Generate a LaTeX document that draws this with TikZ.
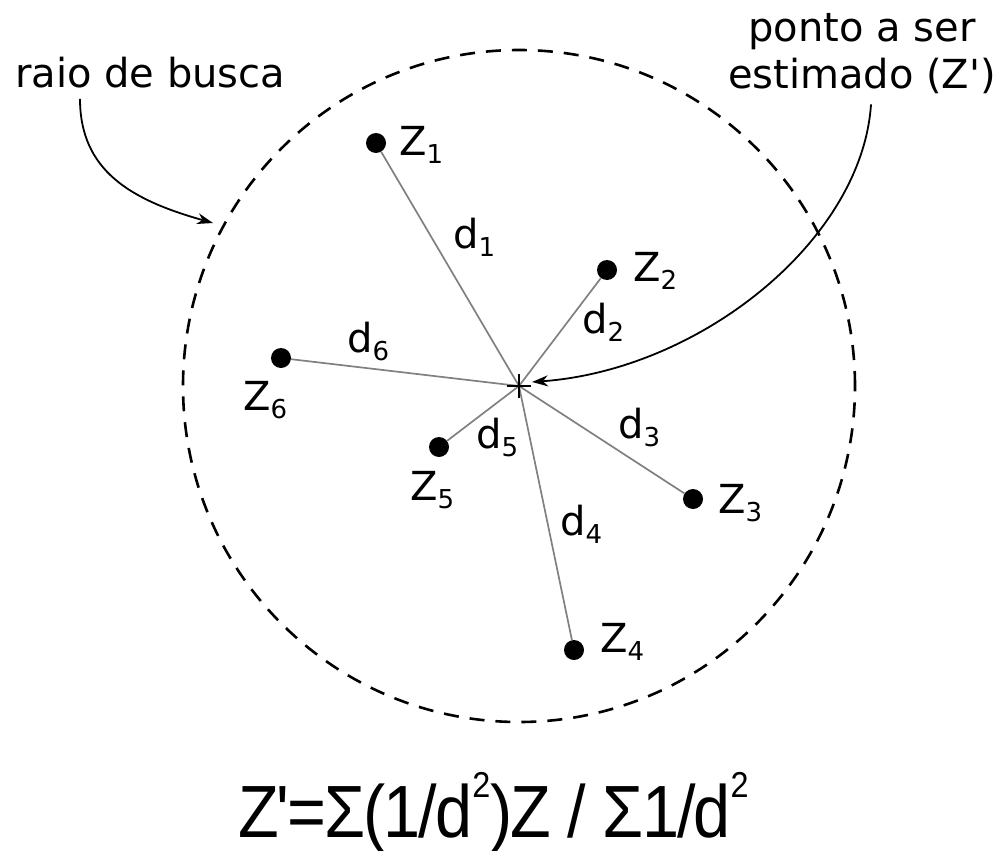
\documentclass[tikz,border=0pt]{standalone}
\usepackage{fontspec}
\setmainfont{DejaVu Sans}
\newfontfamily\formulafont[LetterSpace=-3]{Liberation Sans}
\usetikzlibrary{arrows.meta}

\newcommand{\indice}[1]{\raisebox{-8pt}{\fontsize{26}{26}\selectfont #1}}
\newcommand{\expoente}[1]{\raisebox{40pt}{\fontsize{36}{36}\selectfont #1}}

\tikzset{
  amostra/.style={circle, fill=black, inner sep=0pt, minimum size=20pt},
  distancia/.style={gray, line width=1.7pt},
  rotulo/.style={anchor=base west, inner sep=0pt},
  seta/.style={-{Stealth[length=16pt,width=11pt]}, line width=1.8pt}
}

\begin{document}
\begin{tikzpicture}[x=1pt, y=-1pt, >=Stealth, font=\fontsize{40}{47}\selectfont]
    \useasboundingbox (0,0) rectangle (1001,851);

    % Search radius
    \coordinate (zest) at (519,386);
    \draw [line width=2.6pt, dash pattern=on 15pt off 11pt] (zest) circle (336pt);

    % Sample points
    \node [amostra] (z1) at (376,143) {};
    \node [amostra] (z2) at (607,270) {};
    \node [amostra] (z3) at (693,499) {};
    \node [amostra] (z4) at (574,650) {};
    \node [amostra] (z5) at (439,447) {};
    \node [amostra] (z6) at (281,358) {};

    % Distances to the estimated point
    \foreach \i in {1,...,6}
        \draw [distancia] (zest) -- (z\i);
    \draw [line width=1.6pt] (zest) ++(-12,0) -- ++(24,0);
    \draw [line width=1.6pt] (zest) ++(0,-12) -- ++(0,24);

    % Labels of the points
    \node [rotulo] (lz1) at (399,155) {Z\indice{1}};
    \node [rotulo] (lz2) at (633,281) {Z\indice{2}};
    \node [rotulo] (lz3) at (718,513) {Z\indice{3}};
    \node [rotulo] (lz4) at (600,652) {Z\indice{4}};
    \node [rotulo] (lz5) at (410,500) {Z\indice{5}};
    \node [rotulo] (lz6) at (243,410) {Z\indice{6}};

    % Labels of the distances
    \node [rotulo] (ld1) at (453,248) {d\indice{1}};
    \node [rotulo] (ld2) at (582,333) {d\indice{2}};
    \node [rotulo] (ld3) at (618,438) {d\indice{3}};
    \node [rotulo] (ld4) at (560,535) {d\indice{4}};
    \node [rotulo] (ld5) at (476,448) {d\indice{5}};
    \node [rotulo] (ld6) at (347,352) {d\indice{6}};

    % Callouts
    \node [rotulo] (raio) at (15,88) {raio de busca};
    \coordinate (borda) at (213,223);
    \draw [seta] ([xshift=65pt, yshift=-10pt]raio.south west) .. controls +(0,72) and +(-82,-23) .. (borda);

    \node [align=center, inner sep=0pt] (ponto) at (862,54) {ponto a ser\\estimado (Z\textquotesingle)};
    \draw [seta] ([xshift=9pt, yshift=-10pt]ponto.south) .. controls +(-9,136) and +(168,-12) .. ([xshift=13pt, yshift=4pt]zest);

    % Formula
    \node [rotulo, font=\formulafont\fontsize{74}{74}\selectfont] (formula) at (238,837)
        {\scalebox{0.9}[1]{Z'=Σ(1/d\expoente{2})Z / Σ1/d\expoente{2}}};
\end{tikzpicture}
\end{document}
